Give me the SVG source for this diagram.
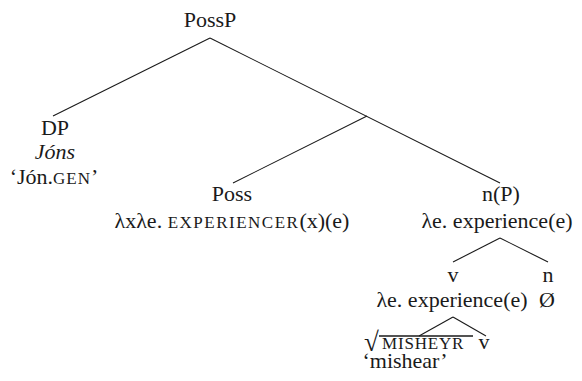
<svg xmlns="http://www.w3.org/2000/svg" width="582" height="381" viewBox="0 0 582 381">
<style>
text{font-family:"Liberation Serif","Times New Roman",serif;font-size:22px;fill:#1a1a1a;text-anchor:middle}
.sc{font-size:17px;letter-spacing:1.5px}
.it{font-style:italic}
.l{text-anchor:start}
line{stroke:#1a1a1a;stroke-width:1.1}
</style>
<rect width="582" height="381" fill="#fff"/>
<g id="connectors">
<line x1="210" y1="38" x2="53" y2="116"/>
<line x1="210" y1="38" x2="500" y2="183"/>
<line x1="367" y1="116" x2="233" y2="183"/>
<line x1="500" y1="238" x2="453" y2="262"/>
<line x1="500" y1="238" x2="548" y2="262"/>
<line x1="453" y1="317" x2="419" y2="336"/>
<line x1="453" y1="317" x2="486" y2="336"/>
</g>
<g id="possp"><text x="210" y="27">PossP</text></g>
<g id="dp">
<text x="55" y="135">DP</text>
<text x="55" y="159" class="it">Jóns</text>
<text x="54" y="184">‘Jón.<tspan class="sc" style="letter-spacing:1px">GEN</tspan>’</text>
</g>
<g id="poss">
<text x="232" y="201">Poss</text>
<text x="232" y="228">λxλe. <tspan class="sc">EXPERIENCER</tspan>(x)(e)</text>
</g>
<g id="np">
<text x="501" y="201">n(P)</text>
<text x="497" y="228">λe. experience(e)</text>
</g>
<g id="v">
<text x="453" y="282">v</text>
<text x="452" y="307">λe. experience(e)</text>
</g>
<g id="n">
<text x="548" y="282">n</text>
<text x="547" y="307">Ø</text>
</g>
<g id="root">
<text x="364" y="351" class="l" style="font-size:27px">√</text>
<line x1="379" y1="336" x2="473" y2="336" style="stroke-width:1.3"/>
<text x="382" y="349" class="l sc" style="letter-spacing:0.8px">MISHEYR</text>
<text x="405" y="368">‘mishear’</text>
</g>
<g id="v2"><text x="484" y="349">v</text></g>
</svg>
